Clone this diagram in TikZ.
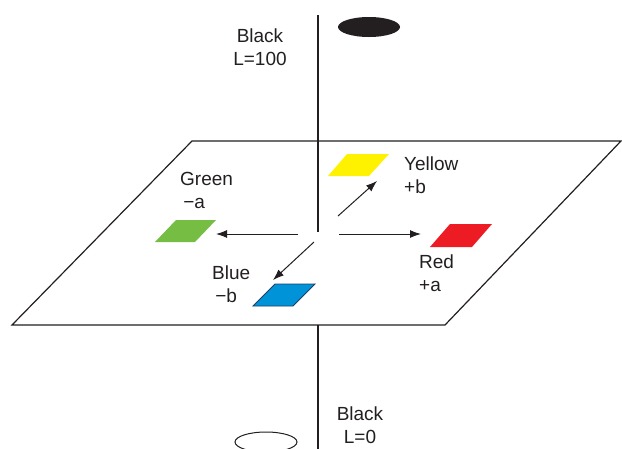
\documentclass[tikz,border=0pt]{standalone}
\usepackage{fontspec}
\setmainfont{Liberation Sans}
\usetikzlibrary{arrows.meta}
\definecolor{ink}{HTML}{231F20}
\definecolor{gr}{HTML}{76BD43}
\definecolor{yl}{HTML}{FFF200}
\definecolor{rd}{HTML}{ED1C24}
\definecolor{bl}{HTML}{0093D8}
\definecolor{blo}{HTML}{1F3F66}
\tikzset{
  lbl/.style={font=\fontsize{19}{23}\selectfont, text=ink, align=left, inner sep=0pt, anchor=north west},
  axis/.style={draw=ink, line width=1.3pt},
  edge/.style={draw=ink, line width=1.2pt, line join=miter},
  arr/.style={draw=ink, line width=1pt, -{Latex[length=11pt,width=8pt]}},
}
\begin{document}
\begin{tikzpicture}[x=1pt,y=-1pt]
\useasboundingbox (0,0) rectangle (622,448);
% axis
\coordinate (axtop) at (318,15);
\coordinate (axmid) at (318,232);
\coordinate (axbot1) at (318,325);
\coordinate (axbot2) at (318,449);
\draw[axis] (axtop) -- (axmid);
\draw[axis] (axbot1) -- (axbot2);
% plane
\draw[edge] (192,141) -- (621,141) -- (445,325) -- (12,325) -- cycle;
% ellipses
\fill[ink] (369,27) ellipse [x radius=31, y radius=10];
\draw[ink, line width=1pt] (266,442) ellipse [x radius=31, y radius=10];
% swatches
\fill[gr] (155,242) -- (195,242) -- (216,220) -- (176,220) -- cycle;
\fill[yl] (328,176) -- (369,176) -- (389,154) -- (347,154) -- cycle;
\fill[rd] (430,247) -- (472,247) -- (492,224) -- (450,224) -- cycle;
\filldraw[fill=bl, draw=blo, line width=0.8pt] (253,306) -- (293,306) -- (315,284) -- (275,284) -- cycle;
% arrows
\coordinate (lS) at (298,234); \coordinate (lE) at (216,234);
\coordinate (rS) at (339,234); \coordinate (rE) at (421,234);
\coordinate (uS) at (338,216); \coordinate (uE) at (377,181);
\coordinate (dS) at (314,242); \coordinate (dE) at (273,280);
\draw[arr] (lS) -- (lE);
\draw[arr] (rS) -- (rE);
\draw[arr] (uS) -- (uE);
\draw[arr] (dS) -- (dE);
% labels
\node[lbl, align=center, anchor=north] (bk1) at (260,29) {Black\\L=100};
\node[lbl, align=center, anchor=north] (bk0) at (360,407) {Black\\L=0};
\node[lbl] (green) at (180,172) {Green\\\,−a};
\node[lbl] (yellow) at (404,157) {Yellow\\+b};
\node[lbl] (red) at (419,255) {Red\\+a};
\node[lbl] (blue) at (212,266) {Blue\\\,−b};
\end{tikzpicture}
\end{document}
